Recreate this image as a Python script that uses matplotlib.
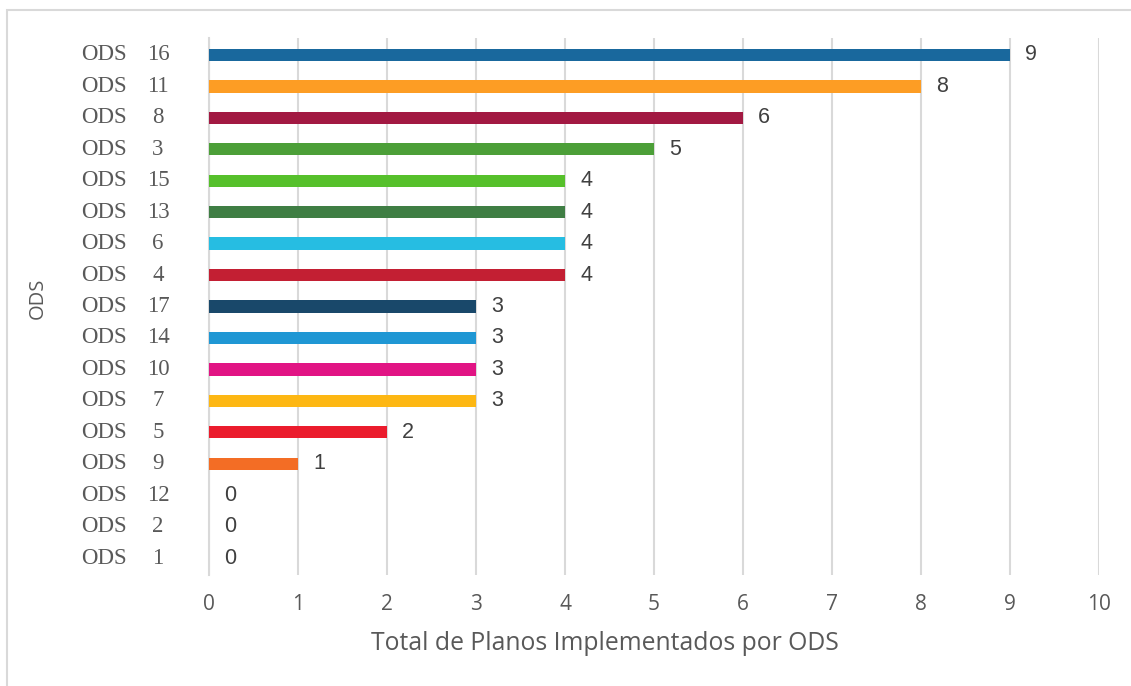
import matplotlib
matplotlib.use('Agg')
import matplotlib.pyplot as plt
import matplotlib.transforms as mtransforms
from matplotlib.patches import Rectangle
import numpy as np

# data, bottom to top as drawn
ODS_NUM = ['1', '2', '12', '9', '5', '7', '10', '14', '17', '4', '6', '13', '15', '3', '8', '11', '16']
TOTALS = [0, 0, 0, 1, 2, 3, 3, 3, 3, 4, 4, 4, 4, 5, 6, 8, 9]
COLORS = ['#E5243B', '#DDA63A', '#BF8B2E', '#F36D25', '#EB1C2D', '#FDB713', '#E11484',
          '#1F97D4', '#19486A', '#C31F33', '#26BDE2', '#3F7E44', '#56C02B', '#4C9F38',
          '#A21942', '#FD9D24', '#19689D']
XTICKS = list(range(0, 11))

GRAY = '#595959'
GRID = '#d9d9d9'
SANS = ['Open Sans', 'DejaVu Sans']
ARIAL = ['Liberation Sans', 'DejaVu Sans']
SERIF = ['Liberation Serif', 'DejaVu Serif']

fig = plt.figure(figsize=(11.31, 6.86), dpi=100)
fig.patches.append(Rectangle((7 / 1131, -0.05), 1.2, 1 - 10 / 686 + 0.05, transform=fig.transFigure,
                             fill=False, edgecolor=GRID, linewidth=1.5, zorder=0))
ax = fig.add_axes([209 / 1131, 1 - 575 / 686, 890 / 1131, 537 / 686])

y = np.arange(len(TOTALS))
bars = ax.barh(y, TOTALS, height=0.39, color=COLORS, zorder=3)
ax.bar_label(bars, labels=[str(v) for v in TOTALS], padding=11, fontsize=15.5,
             color='#404040', family=ARIAL)

ax.set_xlim(0, 10)
ax.set_ylim(-0.54, len(TOTALS) - 0.46)
ax.set_xticks(XTICKS)
ax.set_xticklabels([str(t) for t in XTICKS], fontsize=15, color=GRAY, family=SANS)
ax.tick_params(axis='x', length=0, pad=14)
ax.set_yticks(y)
ax.set_yticklabels([])
ax.tick_params(axis='y', length=0)
ax.grid(True, axis='x', color=GRID, linewidth=1.5, zorder=0)
for s in ['top', 'right', 'bottom']:
    ax.spines[s].set_visible(False)
ax.spines['left'].set_color(GRID)
ax.spines['left'].set_linewidth(1.5)

trans = mtransforms.blended_transform_factory(ax.transAxes, ax.transData)
for yi, num in zip(y, ODS_NUM):
    ax.text(-0.0921, yi, 'ODS', transform=trans, ha='right', va='center',
            fontsize=16.5, color=GRAY, family=SERIF)
    ax.text(-0.0573, yi, num, transform=trans, ha='center', va='center',
            fontsize=16.5, color=GRAY, family=SERIF)

ax.set_xlabel('Total de Planos Implementados por ODS', fontsize=17.8, color=GRAY, family=SANS)
ax.xaxis.set_label_coords(0.445, -0.105)
fig.text(38 / 1131, 1 - 298 / 686, 'ODS', rotation=90, ha='center', va='center',
         fontsize=14.5, color=GRAY, family=SANS)

fig.savefig('out.png', dpi=100)
